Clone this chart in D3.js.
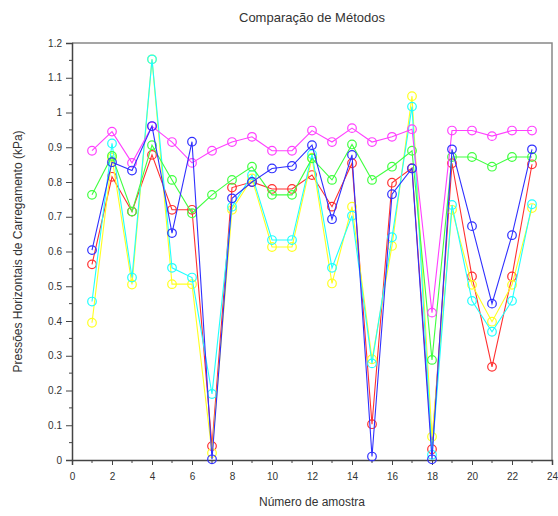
<!DOCTYPE html>
<html>
<head>
<meta charset="utf-8">
<script src="https://cdn.jsdelivr.net/npm/d3@7"></script>
<style>
  body { margin: 0; background: #fff; }
  text { font-family: "Liberation Sans", Arial, sans-serif; fill: #333; }
</style>
</head>
<body>
<div id="chart"></div>
<script>
// sample numbers
var samples = d3.range(1, 24);

// series values
var magenta = [0.89, 0.945, 0.855, 0.96, 0.915, 0.855, 0.89, 0.915, 0.93, 0.89, 0.89, 0.948, 0.915, 0.955, 0.915, 0.93, 0.952, 0.424, 0.948, 0.948, 0.932, 0.948, 0.948];
var green   = [0.763, 0.875, 0.715, 0.906, 0.806, 0.71, 0.763, 0.806, 0.844, 0.763, 0.763, 0.868, 0.806, 0.908, 0.806, 0.844, 0.89, 0.288, 0.872, 0.872, 0.844, 0.872, 0.872];
var red     = [0.563, 0.815, 0.715, 0.878, 0.72, 0.72, 0.04, 0.784, 0.80, 0.78, 0.78, 0.82, 0.729, 0.854, 0.103, 0.798, 0.84, 0.031, 0.854, 0.528, 0.268, 0.528, 0.851];
var yellow  = [0.395, 0.87, 0.505, 1.153, 0.506, 0.506, 0.02, 0.72, 0.81, 0.613, 0.613, 0.87, 0.508, 0.729, 0.29, 0.616, 1.047, 0.067, 0.72, 0.504, 0.398, 0.504, 0.725];
var cyan    = [0.456, 0.911, 0.525, 1.153, 0.553, 0.525, 0.19, 0.729, 0.82, 0.633, 0.633, 0.88, 0.553, 0.703, 0.278, 0.641, 1.017, 0.015, 0.734, 0.458, 0.369, 0.458, 0.736];
var blue    = [0.604, 0.857, 0.833, 0.961, 0.653, 0.916, 0.002, 0.753, 0.80, 0.839, 0.846, 0.906, 0.693, 0.878, 0.01, 0.765, 0.839, 0.002, 0.894, 0.673, 0.45, 0.647, 0.894];

var xTicks = d3.range(0, 25, 2);
var yTicks = d3.range(0, 13).map(function(i){ return i / 10; });

// drawing order
var series = [
  {name: "red", values: red, color: "#ff3030"},
  {name: "yellow", values: yellow, color: "#ffff20"},
  {name: "cyan", values: cyan, color: "#20ffff"},
  {name: "green", values: green, color: "#40ff40"},
  {name: "magenta", values: magenta, color: "#ff40ff"},
  {name: "blue", values: blue, color: "#3030ff"}
];

var W = 558, H = 516;
var margin = {top: 43, right: 6, bottom: 56, left: 72},
    width = W - margin.left - margin.right,
    height = H - margin.top - margin.bottom;

var svg = d3.select("#chart").append("svg")
    .attr("width", W)
    .attr("height", H)
  .append("g")
    .attr("transform", "translate(" + margin.left + "," + margin.top + ")");

var x = d3.scaleLinear().domain([0, 24]).range([0, width]);
var y = d3.scaleLinear().domain([0, 1.2]).range([height, 0]);

// frame (top and right)
svg.append("path")
  .attr("d", "M0,0H" + width + "V" + height)
  .attr("fill", "none")
  .attr("stroke", "#888")
  .attr("stroke-width", 1.5);

// x axis
var gx = svg.append("g")
  .attr("transform", "translate(0," + height + ")")
  .call(d3.axisBottom(x).tickValues(xTicks).tickSize(5).tickPadding(8).tickFormat(d3.format("d")));
gx.append("g").selectAll("line")
  .data(d3.range(1, 24, 2))
  .enter().append("line")
    .attr("x1", function(d){ return x(d); })
    .attr("x2", function(d){ return x(d); })
    .attr("y1", 0).attr("y2", 3)
    .attr("stroke", "#444");

// y axis
var gy = svg.append("g")
  .call(d3.axisLeft(y).tickValues(yTicks).tickSize(6).tickPadding(4).tickFormat(d3.format("~g")));
gy.append("g").selectAll("line")
  .data(d3.range(0, 12).map(function(i){ return i / 10 + 0.05; }))
  .enter().append("line")
    .attr("x1", 0).attr("x2", -3)
    .attr("y1", function(d){ return y(d); })
    .attr("y2", function(d){ return y(d); })
    .attr("stroke", "#444");

svg.selectAll(".domain").attr("stroke", "#444").attr("stroke-width", 1.5);
svg.selectAll(".tick line").attr("stroke", "#444");
svg.selectAll(".tick text").style("font-size", "10px").style("fill", "#333");

// lines and markers
var line = d3.line()
  .x(function(d, i){ return x(samples[i]); })
  .y(function(d){ return y(d); });

series.forEach(function(s) {
  var g = svg.append("g");
  g.append("path")
    .datum(s.values)
    .attr("d", line)
    .attr("fill", "none")
    .attr("stroke", s.color)
    .attr("stroke-width", 1.1);
  g.selectAll("circle")
    .data(s.values)
    .enter().append("circle")
      .attr("cx", function(d, i){ return x(samples[i]); })
      .attr("cy", function(d){ return y(d); })
      .attr("r", 4.3)
      .attr("fill", "none")
      .attr("stroke", s.color)
      .attr("stroke-width", 1.2);
});

// title and axis labels
var root = d3.select("svg");
root.append("text")
  .attr("x", 312).attr("y", 22)
  .attr("text-anchor", "middle")
  .style("font-size", "13px")
  .text("Comparação de Métodos");

root.append("text")
  .attr("x", 312).attr("y", 506)
  .attr("text-anchor", "middle")
  .style("font-size", "12px")
  .text("Número de amostra");

root.append("text")
  .attr("transform", "translate(22," + (margin.top + height / 2) + ") rotate(-90)")
  .attr("text-anchor", "middle")
  .style("font-size", "12px")
  .text("Pressões Horizontais de Carregamento (kPa)");
</script>
</body>
</html>
